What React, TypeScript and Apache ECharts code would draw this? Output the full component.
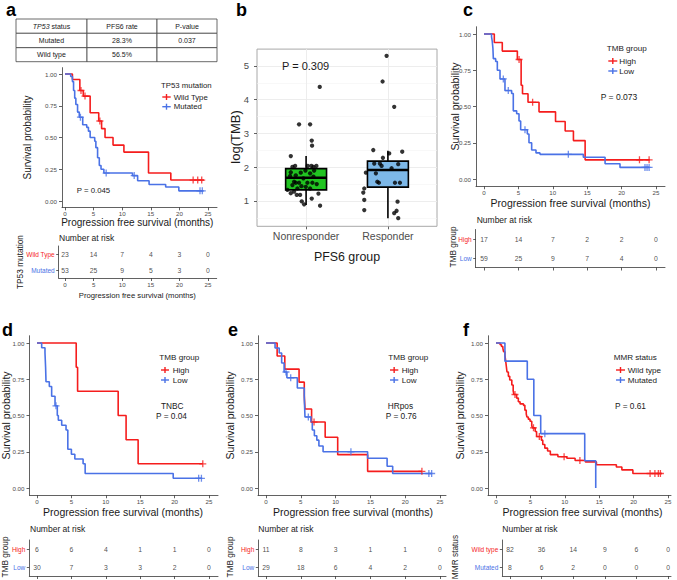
import React, { useEffect, useRef } from 'react';
import * as echarts from 'echarts';

const FONT = "'Liberation Sans', Arial, Helvetica, sans-serif";
const RED = '#f51d1d';
const BLUE = '#4a72e6';
const AXIS = '#3a3a3a';
const TICK_TXT = '#4d4d4d';
const TXT = '#1a1a1a';
const PLUS = 'path://M5,0L5,10M0,5L10,5';

// shared ticks
const timeTicks = [0, 5, 10, 15, 20, 25];
const survTicks = [0, 0.25, 0.5, 0.75, 1];

// panel a table
const tableHeader = ['{i|TP53} status', 'PFS6 rate', 'P-value'];
const tableMutated = ['Mutated', '28.3%', '0.037'];
const tableWildType = ['Wild type', '56.5%', ''];

// panel a : TP53
const aWildSteps = [[0, 1], [1.3, 0.957], [2.6, 0.87], [3.2, 0.826], [4.4, 0.695], [5.9, 0.63], [6.4, 0.57], [7.0, 0.5], [8.4, 0.44], [10.3, 0.385], [14.6, 0.22], [18.5, 0.165], [24.3, 0.165]];
const aWildCensor = [[2.8, 0.87], [3.5, 0.826], [6.1, 0.63], [22.4, 0.165], [23.2, 0.165], [23.9, 0.165]];
const aMutSteps = [[0, 1], [1.0, 0.98], [1.3, 0.94], [1.5, 0.87], [1.7, 0.81], [1.9, 0.76], [2.2, 0.7], [2.5, 0.66], [3.1, 0.6], [3.8, 0.58], [4.1, 0.55], [4.4, 0.5], [5.2, 0.47], [5.4, 0.42], [5.7, 0.34], [6.0, 0.28], [6.3, 0.25], [6.8, 0.22], [11.8, 0.2], [12.7, 0.16], [14.7, 0.13], [17.6, 0.11], [19.9, 0.08], [24.2, 0.08]];
const aMutCensor = [[2.7, 0.66], [7.2, 0.22], [12.1, 0.2], [23.6, 0.08], [24.0, 0.08]];
const aWildRisk = [23, 14, 7, 4, 3, 0];
const aMutRisk = [53, 25, 9, 5, 3, 0];

// panel b : log(TMB) by PFS6 group
const pfsGroups = ['Nonresponder', 'Responder'];
const tmbTicks = [1, 2, 3, 4, 5];
const boxNonresp = [0.88, 1.33, 1.69, 1.96, 2.33];
const boxResp = [0.49, 1.41, 1.92, 2.18, 2.49];
const boxColors = ['#21c421', '#7db8e8'];
const jitterNonresp = [[0.167, 4.38], [-0.086, 3.27], [0.049, 3.27], [0.069, 2.79], [0.073, 2.64], [-0.187, 2.33], [-0.134, 2.04], [-0.167, 2.01], [0.02, 2.04], [0.065, 2.04], [0.126, 2.04], [0.09, 2.01], [-0.008, 1.9], [0.098, 1.9], [-0.187, 1.85], [-0.065, 1.84], [0.049, 1.82], [-0.126, 1.76], [-0.196, 1.74], [0.09, 1.72], [-0.033, 1.67], [-0.147, 1.57], [-0.086, 1.54], [0.016, 1.54], [0.077, 1.54], [0.13, 1.5], [-0.167, 1.47], [-0.057, 1.44], [-0.106, 1.37], [0.049, 1.37], [-0.147, 1.28], [-0.187, 1.23], [-0.114, 1.18], [-0.073, 1.18], [0.151, 1.22], [0.069, 1.07], [-0.053, 0.99], [-0.024, 0.9], [0.171, 0.86], [-0.126, 1.54], [-0.004, 1.42], [-0.228, 1.33]];
const jitterResp = [[-0.016, 5.3], [-0.065, 4.54], [0.077, 3.79], [-0.179, 2.51], [0.175, 2.46], [0.016, 2.41], [-0.061, 2.28], [-0.167, 2.11], [-0.098, 2.11], [-0.077, 2.04], [0.126, 2.09], [-0.269, 1.84], [-0.147, 1.82], [-0.13, 1.57], [-0.11, 1.54], [0.086, 1.54], [0.147, 1.54], [-0.289, 1.37], [-0.301, 1.25], [-0.289, 1.03], [0.118, 0.98], [-0.289, 0.73], [0.106, 0.71], [0.077, 0.64], [0.126, 0.49], [0.045, 1.97]];

// panel c : TMB all
const cHighSteps = [[0, 1], [1.5, 0.941], [2.66, 0.882], [4.85, 0.824], [5.4, 0.647], [5.6, 0.588], [6.4, 0.529], [8.0, 0.463], [10.4, 0.397], [11.8, 0.331], [13.0, 0.265], [14.7, 0.132], [24.1, 0.132]];
const cHighCensor = [[5.1, 0.824], [7.07, 0.529], [22.6, 0.132], [24.0, 0.132]];
const cLowSteps = [[0, 1], [1.1, 0.98], [1.2, 0.95], [1.3, 0.9], [1.36, 0.83], [1.7, 0.81], [1.94, 0.75], [2.33, 0.69], [3.05, 0.61], [4.02, 0.59], [4.26, 0.47], [4.75, 0.45], [5.09, 0.4], [5.33, 0.34], [6.3, 0.31], [6.54, 0.25], [6.93, 0.2], [7.56, 0.18], [8.14, 0.17], [14.44, 0.15], [17.6, 0.105], [19.77, 0.08], [24.0, 0.08]];
const cLowCensor = [[2.81, 0.69], [3.53, 0.61], [5.96, 0.34], [12.26, 0.17], [23.4, 0.08], [23.7, 0.08], [24.0, 0.08]];
const cHighRisk = [17, 14, 7, 2, 2, 0];
const cLowRisk = [59, 25, 9, 7, 4, 0];

// panel d : TNBC
const dHighSteps = [[0, 1], [5.7, 0.833], [5.9, 0.667], [11.8, 0.5], [12.95, 0.333], [14.7, 0.167], [24.1, 0.167]];
const dHighCensor = [[24.1, 0.167]];
const dLowSteps = [[0, 1], [0.68, 0.967], [1.16, 0.933], [1.25, 0.833], [1.31, 0.733], [1.79, 0.7], [2.13, 0.633], [2.62, 0.567], [2.95, 0.5], [3.1, 0.467], [3.59, 0.433], [4.22, 0.4], [4.48, 0.267], [5.0, 0.233], [5.5, 0.2], [6.7, 0.167], [7.0, 0.1], [19.8, 0.067], [24.0, 0.067]];
const dLowCensor = [[2.76, 0.567], [23.5, 0.067], [23.9, 0.067]];
const dHighRisk = [6, 6, 4, 1, 1, 0];
const dLowRisk = [30, 7, 3, 3, 2, 0];

// panel e : HRpos
const eHighSteps = [[0, 1], [1.6, 0.91], [2.7, 0.82], [4.75, 0.73], [5.5, 0.64], [5.6, 0.545], [6.55, 0.455], [8.5, 0.35], [10.3, 0.23], [14.6, 0.115], [22.4, 0.115]];
const eHighCensor = [[6.9, 0.455], [22.4, 0.115]];
const eLowSteps = [[0, 1], [1.3, 0.966], [1.9, 0.931], [2.25, 0.862], [2.6, 0.8], [3.0, 0.76], [4.5, 0.69], [5.5, 0.62], [5.6, 0.49], [6.45, 0.455], [6.65, 0.4], [6.95, 0.36], [7.3, 0.33], [7.6, 0.29], [8.2, 0.25], [14.6, 0.205], [17.4, 0.15], [18.2, 0.1], [23.8, 0.1]];
const eLowCensor = [[2.87, 0.8], [3.55, 0.76], [6.08, 0.49], [12.2, 0.25], [23.4, 0.1], [23.8, 0.1]];
const eHighRisk = [11, 8, 3, 1, 1, 0];
const eLowRisk = [29, 18, 6, 4, 2, 0];

// panel f : MMR
const fWildSteps = [[0, 1], [0.6, 0.988], [0.8, 0.976], [1.0, 0.963], [1.1, 0.94], [1.3, 0.915], [1.4, 0.88], [1.5, 0.84], [1.6, 0.8], [1.8, 0.77], [2.0, 0.745], [2.3, 0.71], [2.5, 0.67], [2.6, 0.645], [3.0, 0.62], [3.25, 0.595], [3.5, 0.58], [4.0, 0.57], [4.2, 0.537], [4.4, 0.51], [4.5, 0.49], [4.7, 0.475], [4.95, 0.46], [5.2, 0.43], [5.3, 0.415], [5.7, 0.39], [5.9, 0.355], [6.6, 0.33], [6.8, 0.3], [7.1, 0.275], [7.5, 0.255], [7.9, 0.23], [9.0, 0.216], [10.3, 0.205], [11.5, 0.19], [13.0, 0.18], [14.6, 0.16], [17.5, 0.145], [18.3, 0.125], [19.9, 0.1], [24.1, 0.1]];
const fWildCensor = [[2.76, 0.645], [5.45, 0.415], [6.3, 0.355], [9.9, 0.216], [12.2, 0.19], [22.4, 0.1], [23.1, 0.1], [23.6, 0.1], [23.9, 0.1]];
const fMutSteps = [[0, 1], [1.3, 0.875], [4.55, 0.75], [5.5, 0.5], [6.5, 0.375], [12.9, 0.1875], [14.5, 0]];
const fMutCensor = [[7.1, 0.375]];
const fWildRisk = [82, 36, 14, 9, 6, 0];
const fMutRisk = [8, 6, 2, 0, 0, 0];

const panels: any[] = [
  {
    letter: 'a', letterX: 6, letterY: 9.5,
    km: { left: 62, top: 67.65, width: 155, height: 139.7, xmin: -0.52, xmax: 26.57 },
    risk: { left: 58.7, top: 246, width: 158, height: 32, xmin: -1.1, xmax: 26.52 },
    curves: [
      { name: 'Wild Type', color: RED, steps: aWildSteps, censor: aWildCensor, risk: aWildRisk },
      { name: 'Mutated', color: BLUE, steps: aMutSteps, censor: aMutCensor, risk: aMutRisk },
    ],
    riskAxisLabels: true,
    survTitle: [27.5, 137.5, 10], xTitle: [137.3, 222.7, 10],
    riskTitle: [59, 238], riskYTitle: ['TP53 mutation', 20, 262],
    legend: { title: 'TP53 mutation', x: 161, y: 85, px0: 162.3, px1: 170.7, tx: 173.7, ys: [97, 106.7], size: 7.8 },
    notes: [['P = 0.045', 76.7, 190, 7.8]],
  },
  {
    letter: 'c', letterX: 463, letterY: 9.5,
    km: { left: 476, top: 26.75, width: 189, height: 159.5, xmin: -1.16, xmax: 26.31 },
    risk: { left: 475.7, top: 229.5, width: 189.3, height: 38, xmin: -1.21, xmax: 26.31 },
    curves: [
      { name: 'High', color: RED, steps: cHighSteps, censor: cHighCensor, risk: cHighRisk },
      { name: 'Low', color: BLUE, steps: cLowSteps, censor: cLowCensor, risk: cLowRisk },
    ],
    survTitle: [455, 106.5, 10.5], xTitle: [570.5, 203.3, 10.5],
    riskTitle: [476.7, 220], riskYTitle: ['TMB group', 453, 247],
    legend: { title: 'TMB group', x: 606.7, y: 48.3, px0: 608.3, px1: 617.3, tx: 619.3, ys: [61, 71], size: 8.1 },
    notes: [['P = 0.073', 600.7, 96.7, 8.5]],
  },
  {
    letter: 'd', letterX: 2, letterY: 329.5,
    km: { left: 29.5, top: 335.75, width: 188.5, height: 159.5, xmin: -1.09, xmax: 26.31 },
    risk: { left: 29.3, top: 540, width: 188.7, height: 36, xmin: -1.12, xmax: 26.31 },
    curves: [
      { name: 'High', color: RED, steps: dHighSteps, censor: dHighCensor, risk: dHighRisk },
      { name: 'Low', color: BLUE, steps: dLowSteps, censor: dLowCensor, risk: dLowRisk },
    ],
    survTitle: [6, 415.5, 10.5], xTitle: [123, 512.3, 10.5],
    riskTitle: [30, 529.3], riskYTitle: ['TMB group', 5, 557],
    legend: { title: 'TMB group', x: 159.3, y: 357.3, px0: 161, px1: 169, tx: 172.7, ys: [370, 380], size: 8.1 },
    notes: [['TNBC', 161, 405.7, 8.3], ['P = 0.04', 156, 415.7, 8.3]],
  },
  {
    letter: 'e', letterX: 228, letterY: 329.5,
    km: { left: 258, top: 335.75, width: 188, height: 159.5, xmin: -1.15, xmax: 25.86 },
    risk: { left: 258.3, top: 540, width: 187.7, height: 36, xmin: -1.11, xmax: 25.86 },
    curves: [
      { name: 'High', color: RED, steps: eHighSteps, censor: eHighCensor, risk: eHighRisk },
      { name: 'Low', color: BLUE, steps: eLowSteps, censor: eLowCensor, risk: eLowRisk },
    ],
    survTitle: [229.5, 415.5, 10.5], xTitle: [353, 512.3, 10.5],
    riskTitle: [258.3, 529.3], riskYTitle: ['TMB group', 230, 557],
    legend: { title: 'TMB group', x: 388.3, y: 357.3, px0: 390, px1: 398.3, tx: 401.7, ys: [370, 380], size: 8.1 },
    notes: [['HRpos', 387.7, 405.7, 8.3], ['P = 0.76', 385.7, 415.7, 8.3]],
  },
  {
    letter: 'f', letterX: 463, letterY: 329.5,
    km: { left: 488, top: 335.75, width: 183, height: 159.5, xmin: -1.16, xmax: 25.44 },
    risk: { left: 502.3, top: 540, width: 168.7, height: 36, xmin: -1.22, xmax: 25.47 },
    curves: [
      { name: 'Wild type', color: RED, steps: fWildSteps, censor: fWildCensor, risk: fWildRisk },
      { name: 'Mutated', color: BLUE, steps: fMutSteps, censor: fMutCensor, risk: fMutRisk },
    ],
    survTitle: [460, 415.5, 10.5], xTitle: [582.5, 512, 10.5],
    riskTitle: [502.3, 529.3], riskYTitle: ['MMR status', 455, 557],
    legend: { title: 'MMR status', x: 613.7, y: 357.3, px0: 616, px1: 625, tx: 627.7, ys: [370, 380], size: 8.1 },
    notes: [['P = 0.61', 615, 406, 8.3]],
  },
];

function buildOption() {
  const grid: any[] = [];
  const xAxis: any[] = [];
  const yAxis: any[] = [];
  const series: any[] = [];
  const graphic: any[] = [];
  const lineStyle = { color: AXIS, width: 0.8 };

  const txt = (text: string, x: number, y: number, o: any = {}) => {
    graphic.push({
      type: 'text', x, y, rotation: o.rotation || 0, silent: true, z: 10,
      style: {
        text, x: 0, y: 0, fill: o.fill || TXT, fontSize: o.size || 8, fontFamily: FONT,
        fontWeight: o.weight || 'normal', align: o.align || 'left', verticalAlign: 'middle',
        rich: o.rich,
      },
    });
  };
  const line = (x1: number, y1: number, x2: number, y2: number, stroke: string, w: number) => {
    graphic.push({ type: 'line', silent: true, z: 10, shape: { x1, y1, x2, y2 }, style: { stroke, lineWidth: w } });
  };

  // ---- table (panel a)
  const colX = [16, 87, 157, 217];
  const rowY = [19, 33.3, 47.7, 61.7];
  const rows = [tableHeader, tableMutated, tableWildType];
  rows.forEach((r, ri) => {
    r.forEach((cell, ci) => {
      graphic.push({
        type: 'rect', silent: true, z: 9,
        shape: { x: colX[ci], y: rowY[ri], width: colX[ci + 1] - colX[ci], height: rowY[ri + 1] - rowY[ri] },
        style: { fill: '#fff', stroke: '#444', lineWidth: 0.8 },
      });
      if (cell) {
        txt(cell, (colX[ci] + colX[ci + 1]) / 2, (rowY[ri] + rowY[ri + 1]) / 2, {
          size: 7, align: 'center',
          rich: { i: { fontStyle: 'italic', fontSize: 7, fontFamily: FONT, fill: TXT } },
        });
      }
    });
  });

  // ---- KM panels
  panels.forEach((p) => {
    const gi = grid.length;
    grid.push({ left: p.km.left, top: p.km.top, width: p.km.width, height: p.km.height, containLabel: false });
    xAxis.push({
      gridIndex: gi, type: 'value', min: p.km.xmin, max: p.km.xmax,
      axisLine: { show: true, onZero: false, lineStyle },
      axisTick: { show: true, length: 3, lineStyle, customValues: timeTicks },
      axisLabel: {
        show: true, customValues: timeTicks, fontSize: 6.2, color: TICK_TXT, margin: 3, fontFamily: FONT,
        formatter: (v: number) => (Math.abs(v % 5) < 1e-6 ? String(Math.round(v)) : ''),
      },
      splitLine: { show: false },
    });
    yAxis.push({
      gridIndex: gi, type: 'value', min: -0.05, max: 1.05,
      axisLine: { show: true, onZero: false, lineStyle },
      axisTick: { show: true, length: 3, lineStyle, customValues: survTicks },
      axisLabel: {
        show: true, customValues: survTicks, fontSize: 6.2, color: TICK_TXT, margin: 5, fontFamily: FONT,
        formatter: (v: number) => (Math.abs((v * 4) - Math.round(v * 4)) < 1e-6 && v >= 0 ? v.toFixed(2) : ''),
      },
      splitLine: { show: false },
    });
    p.curves.forEach((c: any) => {
      series.push({
        type: 'line', xAxisIndex: gi, yAxisIndex: gi, data: c.steps, step: 'end', showSymbol: false,
        symbol: 'none', silent: true, z: 3, lineStyle: { color: c.color, width: 1.6 }, itemStyle: { color: c.color },
      });
      series.push({
        type: 'scatter', xAxisIndex: gi, yAxisIndex: gi, data: c.censor, symbol: PLUS, symbolSize: 7,
        silent: true, z: 4, itemStyle: { color: 'rgba(0,0,0,0)', borderColor: c.color, borderWidth: 1.3 },
      });
    });

    // risk table
    const ri = grid.length;
    const c0 = p.curves[0];
    const c1 = p.curves[1];
    grid.push({ left: p.risk.left, top: p.risk.top, width: p.risk.width, height: p.risk.height, containLabel: false });
    xAxis.push({
      gridIndex: ri, type: 'value', min: p.risk.xmin, max: p.risk.xmax,
      axisLine: { show: true, onZero: false, lineStyle },
      axisTick: { show: true, length: 3, lineStyle, customValues: timeTicks },
      axisLabel: {
        show: !!p.riskAxisLabels, customValues: timeTicks, fontSize: 6.2, color: TICK_TXT, margin: 3, fontFamily: FONT,
        formatter: (v: number) => (Math.abs(v % 5) < 1e-6 ? String(Math.round(v)) : ''),
      },
      splitLine: { show: false },
    });
    yAxis.push({
      gridIndex: ri, type: 'category', data: [c1.name, c0.name],
      axisLine: { show: true, onZero: false, lineStyle },
      axisTick: { show: true, length: 2.5, alignWithLabel: true, lineStyle },
      axisLabel: {
        margin: 4, fontSize: 6.5, fontFamily: FONT,
        formatter: (v: string) => (v === c0.name ? `{c0|${v}}` : `{c1|${v}}`),
        rich: {
          c0: { color: c0.color, fontSize: 6.5, fontFamily: FONT },
          c1: { color: c1.color, fontSize: 6.5, fontFamily: FONT },
        },
      },
      splitLine: { show: false },
    });
    p.curves.forEach((c: any) => {
      series.push({
        type: 'scatter', xAxisIndex: ri, yAxisIndex: ri, silent: true, symbolSize: 1,
        itemStyle: { color: 'rgba(0,0,0,0)' },
        data: timeTicks.map((t, i) => [t, c.name, c.risk[i]]),
        label: {
          show: true, position: 'inside', formatter: (pp: any) => String(pp.value[2]),
          fontSize: 6.8, color: TXT, fontFamily: FONT,
        },
      });
    });

    // texts
    txt(p.letter, p.letterX, p.letterY, { size: 18, weight: 'bold', fill: '#000' });
    txt('Survival probability', p.survTitle[0], p.survTitle[1], { size: p.survTitle[2], align: 'center', rotation: Math.PI / 2 });
    txt('Progression free survival (months)', p.xTitle[0], p.xTitle[1], { size: p.xTitle[2], align: 'center' });
    txt('Number at risk', p.riskTitle[0], p.riskTitle[1], { size: 8.5 });
    txt(p.riskYTitle[0], p.riskYTitle[1], p.riskYTitle[2], { size: 8.3, align: 'center', rotation: Math.PI / 2 });
    if (p.riskAxisLabels) {
      txt('Progression free survival (months)', 137.3, 295, { size: 7.7, align: 'center' });
    }
    const lg = p.legend;
    txt(lg.title, lg.x, lg.y, { size: lg.size });
    p.curves.forEach((c: any, k: number) => {
      const yy = lg.ys[k];
      const mx = (lg.px0 + lg.px1) / 2;
      line(lg.px0, yy, lg.px1, yy, c.color, 1.4);
      line(mx, yy - 3, mx, yy + 3, c.color, 1.4);
      txt(c.name, lg.tx, yy, { size: lg.size });
    });
    p.notes.forEach((n: any) => txt(n[0], n[1], n[2], { size: n[3] }));
  });

  // ---- panel b
  const bi = grid.length;
  grid.push({ left: 257, top: 49.1, width: 180, height: 177.2, containLabel: false, show: true, borderColor: '#a8a8a8', borderWidth: 1, backgroundColor: '#fff' });
  xAxis.push({
    gridIndex: bi, type: 'value', min: 0.4, max: 2.6,
    axisLine: { show: false, onZero: false },
    axisTick: { show: true, length: 3, lineStyle, customValues: [1, 2] },
    axisLabel: {
      customValues: [1, 2], fontSize: 10.5, color: TICK_TXT, margin: 4, fontFamily: FONT,
      formatter: (v: number) => (Math.abs(v - 1) < 1e-6 ? pfsGroups[0] : Math.abs(v - 2) < 1e-6 ? pfsGroups[1] : ''),
    },
    splitLine: { show: false },
  });
  yAxis.push({
    gridIndex: bi, type: 'value', min: 0.25, max: 5.5,
    axisLine: { show: false, onZero: false },
    axisTick: { show: true, length: 3, lineStyle, customValues: tmbTicks },
    axisLabel: {
      customValues: tmbTicks, fontSize: 9.5, color: TICK_TXT, margin: 8, fontFamily: FONT,
      formatter: (v: number) => (Math.abs(v - Math.round(v)) < 1e-6 ? String(Math.round(v)) : ''),
    },
    splitLine: { show: false },
  });
  const gridLines: any[] = [];
  tmbTicks.forEach((v) => gridLines.push({ yAxis: v, lineStyle: { color: '#ebebeb', width: 0.9, type: 'solid' } }));
  [0.5, 1.5, 2.5, 3.5, 4.5].forEach((v) => gridLines.push({ yAxis: v, lineStyle: { color: '#f3f3f3', width: 0.6, type: 'solid' } }));
  [1, 2].forEach((v) => gridLines.push({ xAxis: v, lineStyle: { color: '#ebebeb', width: 0.9, type: 'solid' } }));
  const boxes = [boxNonresp, boxResp];
  series.push({
    type: 'custom', xAxisIndex: bi, yAxisIndex: bi, silent: true, z: 3,
    data: boxes.map((b, i) => [i + 1, ...b, i]),
    renderItem: (params: any, api: any) => {
      const x = api.value(0);
      const lo = api.coord([x, api.value(1)]);
      const q1 = api.coord([x, api.value(2)]);
      const med = api.value(3);
      const q3 = api.coord([x, api.value(4)]);
      const hi = api.coord([x, api.value(5)]);
      const ci = api.value(6);
      const tl = api.coord([x - 0.25, api.value(4)]);
      const br = api.coord([x + 0.25, api.value(2)]);
      const ml = api.coord([x - 0.25, med]);
      const mr = api.coord([x + 0.25, med]);
      return {
        type: 'group',
        children: [
          { type: 'line', shape: { x1: lo[0], y1: lo[1], x2: q1[0], y2: q1[1] }, style: { stroke: '#000', lineWidth: 1.6 } },
          { type: 'line', shape: { x1: q3[0], y1: q3[1], x2: hi[0], y2: hi[1] }, style: { stroke: '#000', lineWidth: 1.6 } },
          { type: 'rect', shape: { x: tl[0], y: tl[1], width: br[0] - tl[0], height: br[1] - tl[1] }, style: { fill: boxColors[ci], stroke: '#000', lineWidth: 1.6 } },
          { type: 'line', shape: { x1: ml[0], y1: ml[1], x2: mr[0], y2: mr[1] }, style: { stroke: '#000', lineWidth: 2.6 } },
        ],
      };
    },
    markLine: { silent: true, symbol: ['none', 'none'], label: { show: false }, z: 1, data: gridLines },
  });
  series.push({
    type: 'scatter', xAxisIndex: bi, yAxisIndex: bi, silent: true, z: 5, symbolSize: 4.3,
    itemStyle: { color: '#000' },
    data: [
      ...jitterNonresp.map((d) => [1 + d[0], d[1]]),
      ...jitterResp.map((d) => [2 + d[0], d[1]]),
    ],
  });
  txt('b', 236, 9.5, { size: 18, weight: 'bold', fill: '#000' });
  txt('log(TMB)', 235, 137, { size: 13, align: 'center', rotation: Math.PI / 2 });
  txt('PFS6 group', 347, 257, { size: 12.4, align: 'center' });
  txt('P = 0.309', 282, 66, { size: 11 });

  return {
    animation: false,
    backgroundColor: '#ffffff',
    grid, xAxis, yAxis, series, graphic,
  };
}

export default function App() {
  const ref = useRef<HTMLDivElement>(null);
  useEffect(() => {
    if (!ref.current) return;
    const chart = echarts.init(ref.current, null, { renderer: 'svg', width: 677, height: 580 });
    chart.setOption(buildOption() as any);
    return () => chart.dispose();
  }, []);
  return <div ref={ref} style={{ position: 'absolute', left: 0, top: 0, width: 677, height: 580 }} />;
}
